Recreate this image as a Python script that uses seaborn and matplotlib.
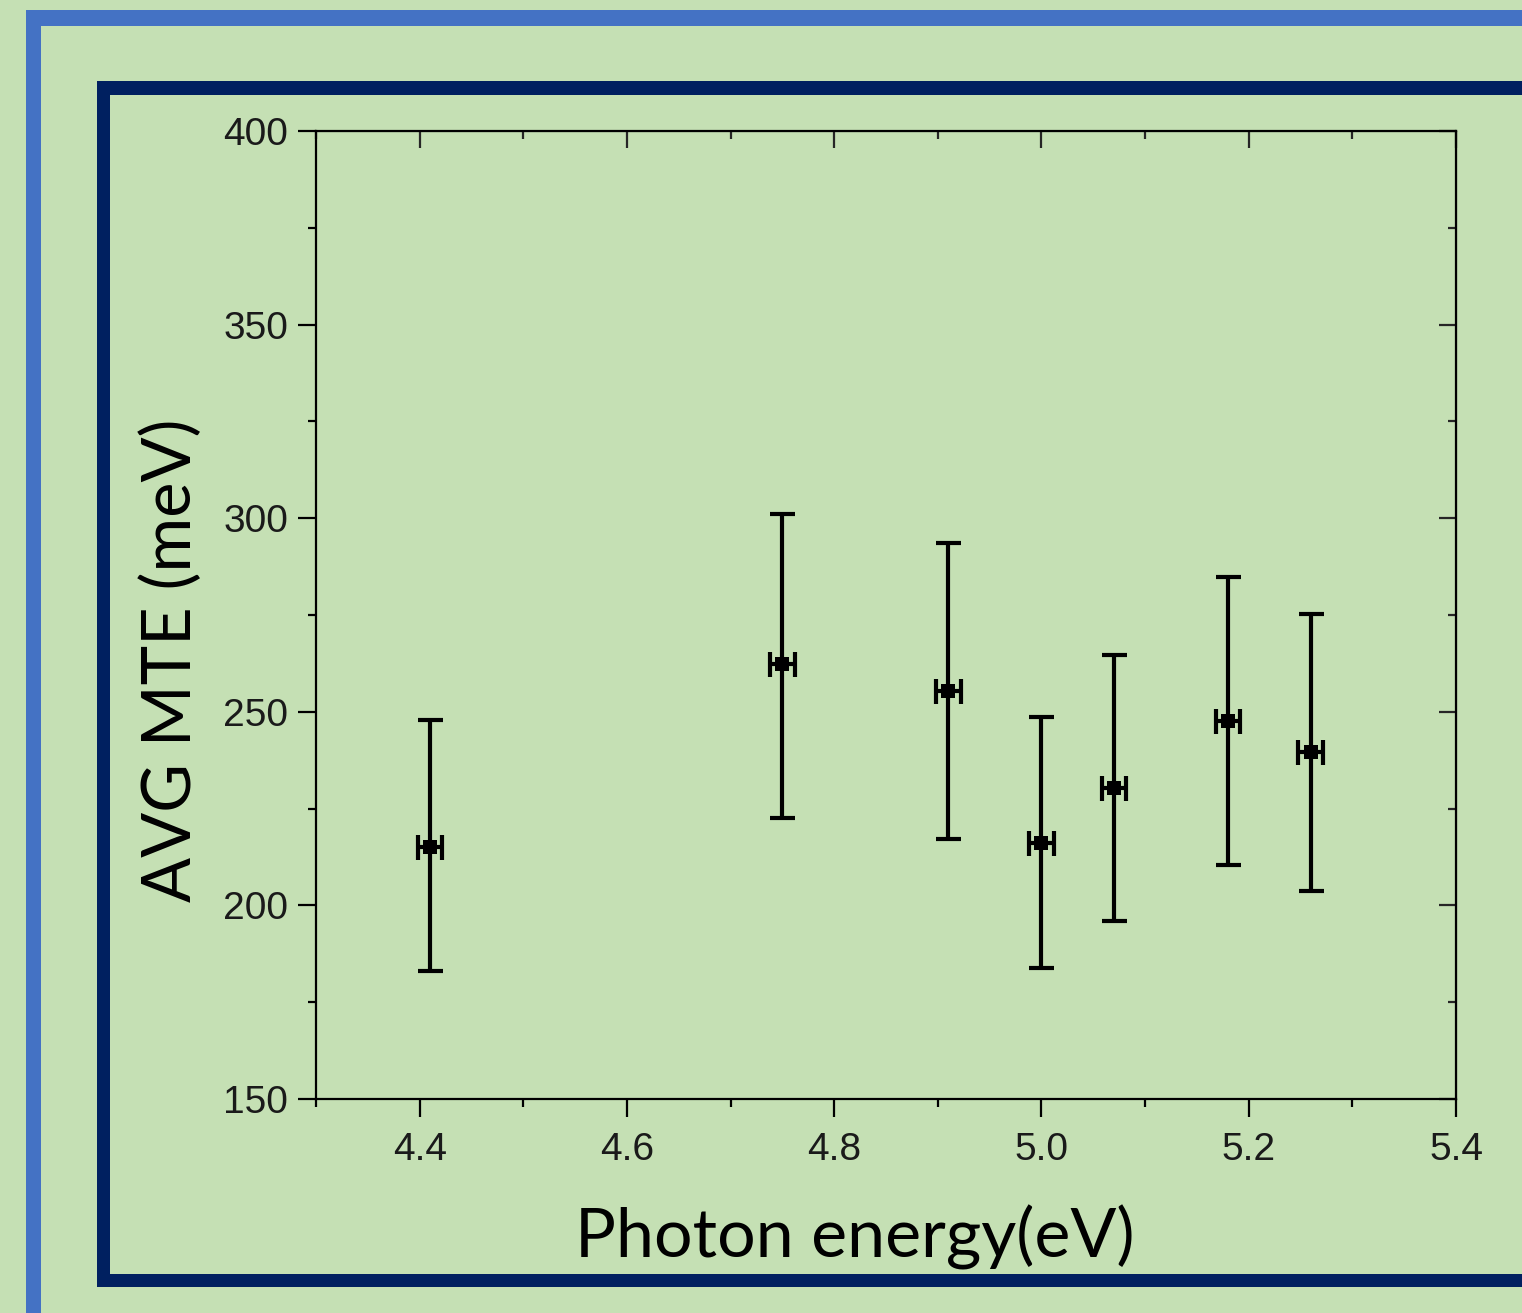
import numpy as np
import matplotlib
matplotlib.use('Agg')
import matplotlib.pyplot as plt
from matplotlib.patches import Rectangle
from matplotlib.ticker import MultipleLocator
import seaborn as sns

BG_COLOR = '#C5E0B4'
OUTER_COLOR = '#4472C4'
INNER_COLOR = '#002060'

energy = [4.41, 4.75, 4.91, 5.00, 5.07, 5.18, 5.26]
mte = [215.1, 262.3, 255.4, 216.2, 230.3, 247.7, 239.5]
mte_low = [183.1, 222.6, 217.1, 183.8, 196.0, 210.4, 203.7]
mte_high = [247.9, 301.1, 293.6, 248.7, 264.7, 284.8, 275.3]
energy_err = [0.012, 0.012, 0.012, 0.012, 0.012, 0.012, 0.012]

x_ticks = [4.4, 4.6, 4.8, 5.0, 5.2, 5.4]
y_ticks = [150, 200, 250, 300, 350, 400]

W, H = 1522, 1313


def add_strip(fig, x0, y0, x1, y1, color):
    """Filled strip given in pixel coords (origin top left)"""
    fig.patches.append(Rectangle((x0 / W, 1 - y1 / H), (x1 - x0) / W, (y1 - y0) / H,
                                 facecolor=color, edgecolor='none', transform=fig.transFigure))


sns.set_style('ticks')
plt.rcParams['font.family'] = ['Liberation Sans', 'DejaVu Sans']

fig = plt.figure(figsize=(W / 100, H / 100), dpi=100, facecolor=BG_COLOR)

# slide borders
add_strip(fig, 26, 10, 41, H + 5, OUTER_COLOR)
add_strip(fig, 26, 10, W + 5, 26, OUTER_COLOR)
add_strip(fig, 97, 81, 110, 1287, INNER_COLOR)
add_strip(fig, 97, 81, W + 5, 95, INNER_COLOR)
add_strip(fig, 97, 1274, W + 5, 1287, INNER_COLOR)

ax = fig.add_axes([316 / W, 1 - 1099 / H, (1456 - 316) / W, (1099 - 131) / H])
ax.set_facecolor(BG_COLOR)

yerr = [np.array(mte) - np.array(mte_low), np.array(mte_high) - np.array(mte)]
ax.errorbar(energy, mte, yerr=yerr, xerr=energy_err, fmt='none', ecolor='black',
            elinewidth=3.0, capsize=9, capthick=3.0, zorder=3)
sns.scatterplot(x=energy, y=mte, marker='s', color='black', s=95, edgecolor='black',
                linewidth=0, ax=ax, zorder=4)

ax.set_xlim(4.3, 5.4)
ax.set_ylim(150, 400)
ax.set_xticks(x_ticks)
ax.set_yticks(y_ticks)
ax.set_xticklabels(['%.1f' % t for t in x_ticks])
ax.set_yticklabels(['%d' % t for t in y_ticks])
ax.xaxis.set_minor_locator(MultipleLocator(0.1))
ax.yaxis.set_minor_locator(MultipleLocator(25))

for side in ['top', 'right', 'bottom', 'left']:
    ax.spines[side].set_visible(True)
    ax.spines[side].set_linewidth(1.6)
    ax.spines[side].set_color('black')

ax.tick_params(which='major', direction='out', length=13, width=1.6, labelsize=28,
               labelcolor='#1a1a1a', color='black')
ax.tick_params(which='minor', direction='out', length=6, width=1.6, color='black')
ax.tick_params(axis='x', which='major', pad=11)
ax.tick_params(axis='y', which='major', pad=7)

# inward ticks on top and right
top = ax.secondary_xaxis('top')
top.set_xticks(x_ticks)
top.xaxis.set_minor_locator(MultipleLocator(0.1))
top.tick_params(which='major', direction='in', length=12, width=1.6, labeltop=False)
top.tick_params(which='minor', direction='in', length=6, width=1.6)
right = ax.secondary_yaxis('right')
right.set_yticks(y_ticks)
right.yaxis.set_minor_locator(MultipleLocator(25))
right.tick_params(which='major', direction='in', length=12, width=1.6, labelright=False)
right.tick_params(which='minor', direction='in', length=6, width=1.6)

ax.set_xlabel('')
ax.set_ylabel('')
fig.text(855 / W, 1 - 1237 / H, 'Photon energy(eV)', ha='center', va='center',
         fontsize=49, family=['Lato', 'DejaVu Sans'], color='black')
fig.text(172 / W, 1 - 660 / H, 'AVG MTE (meV)', ha='center', va='center', rotation=90,
         fontsize=48, family=['Lato', 'DejaVu Sans'], color='black')

fig.savefig('out.png', dpi=100, facecolor=BG_COLOR)
